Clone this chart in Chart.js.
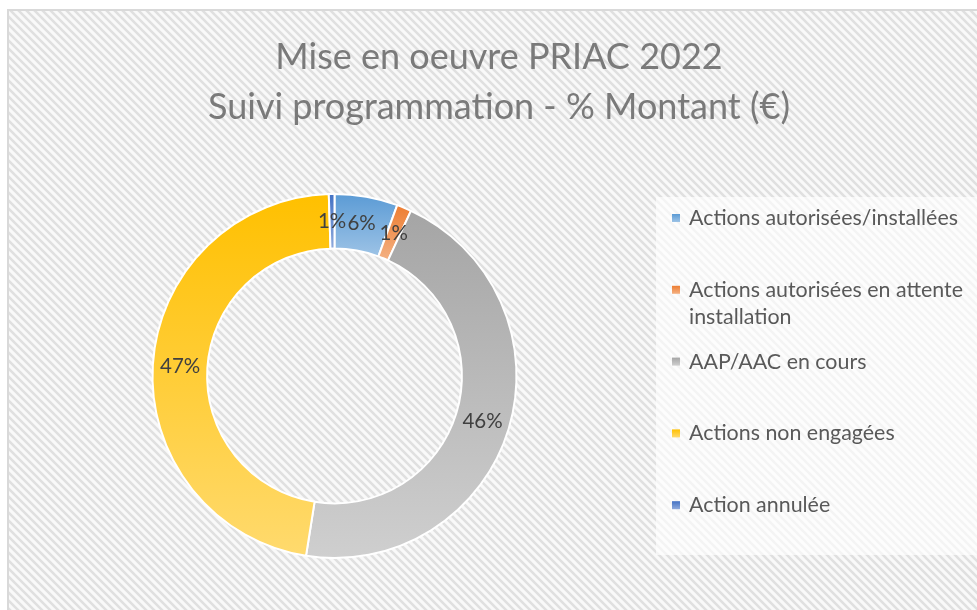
<!DOCTYPE html>
<html><head><meta charset="utf-8">
<script src="https://cdn.jsdelivr.net/npm/chart.js@4"></script>
<style>html,body{margin:0;padding:0;background:#fff;overflow:hidden}canvas{display:block}</style>
</head><body>
<canvas id="c" width="977" height="610"></canvas>
<script>
const titleLines = ["Mise en oeuvre PRIAC 2022", "Suivi programmation - % Montant (€)"];
const categories = ["Actions autorisées/installées", "Actions autorisées en attente installation", "AAP/AAC en cours", "Actions non engagées", "Action annulée"];
const shares = [5.6, 1.3, 45.6, 47.0, 0.5];
const topColors = ["#5B9BD5", "#ED7D31", "#A5A5A5", "#FFC000", "#4472C4"];
const bottomColors = ["#9DC3E6", "#F4B183", "#CFCFCF", "#FFDA6E", "#8FAADC"];

const FONT = "Lato, 'Open Sans', sans-serif";

function sliceGradient(context) {
  const chart = context.chart;
  const i = context.dataIndex;
  const meta = chart.getDatasetMeta(0);
  const ctrl = meta && meta.controller;
  const area = chart.chartArea;
  if (!area || !ctrl || !ctrl.outerRadius) return topColors[i];
  const cx = (area.left + area.right) / 2 + (ctrl.offsetX || 0);
  const cy = (area.top + area.bottom) / 2 + (ctrl.offsetY || 0);
  const total = shares.reduce((a, b) => a + b, 0);
  let before = 0;
  for (let k = 0; k < i; k++) before += shares[k];
  const a0 = -Math.PI / 2 + 2 * Math.PI * before / total;
  const a1 = a0 + 2 * Math.PI * shares[i] / total;
  let minY = Infinity, maxY = -Infinity;
  const N = 90;
  for (let s = 0; s <= N; s++) {
    const a = a0 + (a1 - a0) * s / N;
    for (const r of [ctrl.innerRadius, ctrl.outerRadius]) {
      const y = cy + r * Math.sin(a);
      if (y < minY) minY = y;
      if (y > maxY) maxY = y;
    }
  }
  if (maxY - minY < 2) maxY = minY + 2;
  const g = chart.ctx.createLinearGradient(0, minY, 0, maxY);
  g.addColorStop(0, topColors[i]);
  g.addColorStop(1, bottomColors[i]);
  return g;
}

function makePattern(ctx) {
  const p = document.createElement('canvas');
  p.width = 8; p.height = 8;
  const g = p.getContext('2d');
  g.fillStyle = '#f9f9f9';
  g.fillRect(0, 0, 8, 8);
  g.strokeStyle = '#e0e0e0';
  g.lineWidth = 2.6;
  g.beginPath();
  for (let k = -1; k <= 1; k++) {
    g.moveTo(-4, -4 + k * 8);
    g.lineTo(12, 12 + k * 8);
  }
  g.stroke();
  return ctx.createPattern(p, 'repeat');
}

const backgroundPlugin = {
  id: 'bgPlugin',
  beforeDraw(chart) {
    const ctx = chart.ctx;
    ctx.save();
    ctx.fillStyle = '#ffffff';
    ctx.fillRect(0, 0, chart.width, chart.height);
    ctx.fillStyle = makePattern(ctx);
    ctx.fillRect(8, 10, chart.width - 8, chart.height - 10);
    ctx.fillStyle = '#d9d9d9';
    ctx.fillRect(7, 9, 2, chart.height - 9);
    ctx.fillRect(7, 9, chart.width - 7, 2);
    // title
    ctx.fillStyle = '#7a7a7a';
    ctx.font = "400 36px " + FONT;
    ctx.textAlign = 'center';
    ctx.textBaseline = 'alphabetic';
    ctx.fillText(titleLines[0], 499, 69);
    ctx.fillText(titleLines[1], 499, 119);
    // legend box
    ctx.fillStyle = 'rgba(255,255,255,0.65)';
    ctx.fillRect(656, 197, chart.width - 656, 358);
    ctx.restore();
  }
};

const legendPlugin = {
  id: 'legendPlugin',
  afterDraw(chart) {
    const ctx = chart.ctx;
    ctx.save();
    ctx.font = "21.4px " + FONT;
    ctx.textAlign = 'left';
    ctx.textBaseline = 'alphabetic';
    const textX = 689, maxW = 285, firstBase = 225, slot = 71.8, lineH = 27;
    categories.forEach((label, i) => {
      const words = label.split(' ');
      const lines = [];
      let cur = '';
      words.forEach(w => {
        const t = cur ? cur + ' ' + w : w;
        if (ctx.measureText(t).width > maxW && cur) { lines.push(cur); cur = w; } else cur = t;
      });
      if (cur) lines.push(cur);
      const base = firstBase + i * slot;
      const g = ctx.createLinearGradient(0, base - 11, 0, base - 3);
      g.addColorStop(0, topColors[i]);
      g.addColorStop(1, bottomColors[i]);
      ctx.fillStyle = g;
      ctx.fillRect(672, base - 11, 8, 8);
      ctx.fillStyle = '#595959';
      lines.forEach((ln, j) => ctx.fillText(ln, textX, base + j * lineH));
    });
    ctx.restore();
  }
};

const labelPlugin = {
  id: 'labelPlugin',
  afterDatasetsDraw(chart) {
    const ctx = chart.ctx;
    const meta = chart.getDatasetMeta(0);
    const total = shares.reduce((a, b) => a + b, 0);
    ctx.save();
    ctx.font = "20.5px " + FONT;
    ctx.fillStyle = '#404040';
    ctx.textAlign = 'center';
    ctx.textBaseline = 'middle';
    meta.data.forEach((arc, i) => {
      const p = arc.getCenterPoint();
      ctx.fillText(Math.round(shares[i] / total * 100) + '%', p.x, p.y);
    });
    ctx.restore();
  }
};

new Chart(document.getElementById('c'), {
  type: 'doughnut',
  data: {
    labels: categories,
    datasets: [{
      data: shares,
      backgroundColor: sliceGradient,
      borderColor: '#ffffff',
      borderWidth: 2,
      hoverOffset: 0
    }]
  },
  options: {
    responsive: false,
    animation: false,
    cutout: '70%',
    layout: { padding: { left: 151, right: 459, top: 193, bottom: 51 } },
    plugins: {
      legend: { display: false },
      title: { display: false },
      tooltip: { enabled: false }
    },
    events: []
  },
  plugins: [backgroundPlugin, labelPlugin, legendPlugin]
});
</script>
</body></html>
